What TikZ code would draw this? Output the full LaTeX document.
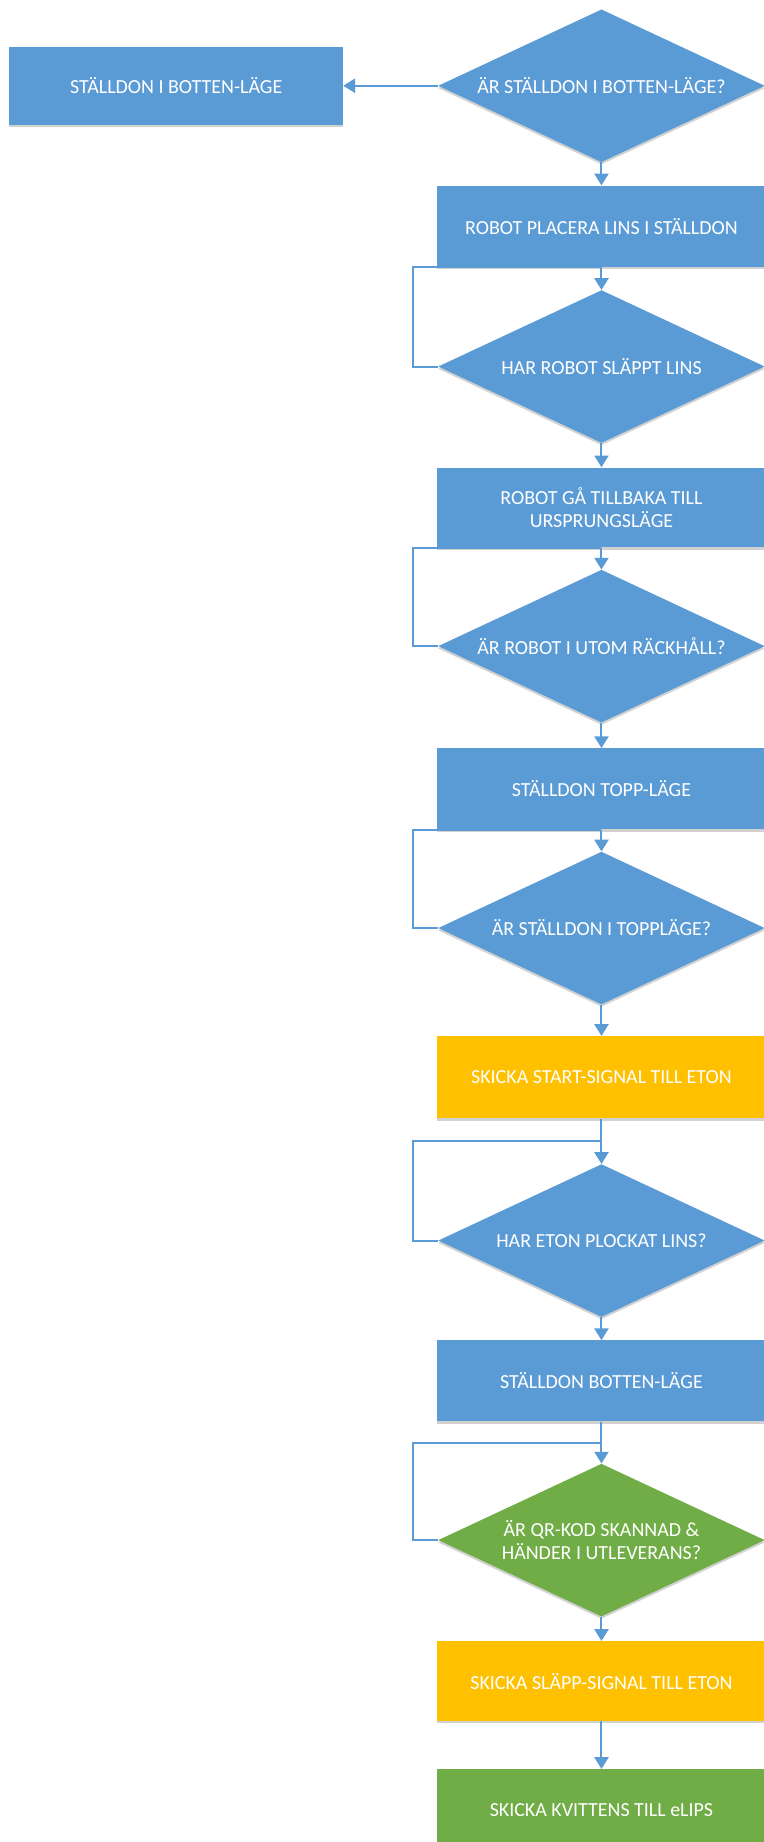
\documentclass[tikz,border=0pt]{standalone}
\usepackage{fontspec}
\setmainfont{Carlito}
\usetikzlibrary{shapes.geometric,arrows.meta,shadows}
\definecolor{fblue}{HTML}{5B9BD5}
\definecolor{fyellow}{HTML}{FFC000}
\definecolor{fgreen}{HTML}{70AD47}
\definecolor{lblue}{HTML}{5B9BD5}
\begin{document}
\begin{tikzpicture}[x=1pt,y=1pt,
  every node/.style={font=\fontsize{17}{20}\selectfont, text=white},
  shade/.style={drop shadow={shadow xshift=0pt, shadow yshift=-2pt, opacity=0.18, fill=black}},
  procbox/.style={rectangle, fill=fblue, minimum width=280pt, minimum height=69pt, inner sep=0pt, align=center, shade},
  decbox/.style={diamond, fill=fblue, minimum width=278pt, minimum height=130pt, inner sep=0pt, shape aspect=2.14, align=center, shade},
  flow/.style={draw=lblue, line width=1.7pt},
  flowarrow/.style={flow, -{Triangle[length=10pt,width=12pt]}},
]
\useasboundingbox (0,0) rectangle (650,-1568);

\node[procbox, minimum width=284pt, minimum height=66pt] (B0) at (150,-73) {STÄLLDON I BOTTEN-LÄGE};
\node[decbox] (D1) at (512,-73) {ÄR STÄLLDON I BOTTEN-LÄGE?};
\node[procbox] (B2) at (512,-192.5) {ROBOT PLACERA LINS I STÄLLDON};
\node[decbox] (D2) at (512,-312) {HAR ROBOT SLÄPPT LINS};
\node[procbox, minimum height=68pt] (B3) at (512,-432) {ROBOT GÅ TILLBAKA TILL\\URSPRUNGSLÄGE};
\node[decbox] (D3) at (512,-550) {ÄR ROBOT I UTOM RÄCKHÅLL?};
\node[procbox] (B4) at (512,-671.5) {STÄLLDON TOPP-LÄGE};
\node[decbox] (D4) at (512,-790) {ÄR STÄLLDON I TOPPLÄGE?};
\node[procbox, fill=fyellow, minimum height=70pt] (B5) at (512,-917) {SKICKA START-SIGNAL TILL ETON};
\node[decbox] (D5) at (512,-1056) {HAR ETON PLOCKAT LINS?};
\node[procbox] (B6) at (512,-1175.5) {STÄLLDON BOTTEN-LÄGE};
\node[decbox, fill=fgreen] (D6) at (512,-1311) {ÄR QR-KOD SKANNAD \&\\HÄNDER I UTLEVERANS?};
\node[procbox, fill=fyellow, minimum height=68pt] (B7) at (512,-1431) {SKICKA SLÄPP-SIGNAL TILL ETON};
\node[procbox, fill=fgreen, minimum height=70pt] (B8) at (512,-1541) {SKICKA KVITTENS TILL eLIPS};

\coordinate (j5) at (512,-971);
\coordinate (j6) at (512,-1228);

\draw[flowarrow] (D1.west) -- (B0.east);
\draw[flowarrow] (D1.south) -- (B2.north);
\draw[flowarrow] (B2.south) -- (D2.north);
\draw[flow] (D2.west) -- ++(-21,0) |- (B2.south);
\draw[flowarrow] (D2.south) -- (B3.north);
\draw[flowarrow] (B3.south) -- (D3.north);
\draw[flow] (D3.west) -- ++(-21,0) |- (B3.south);
\draw[flowarrow] (D3.south) -- (B4.north);
\draw[flowarrow] (B4.south) -- (D4.north);
\draw[flow] (D4.west) -- ++(-21,0) |- (B4.south);
\draw[flowarrow] (D4.south) -- (B5.north);
\draw[flow] (B5.south) -- (j5);
\draw[flowarrow] (j5) -- (D5.north);
\draw[flow] (D5.west) -- ++(-21,0) |- (j5);
\draw[flowarrow] (D5.south) -- (B6.north);
\draw[flow] (B6.south) -- (j6);
\draw[flowarrow] (j6) -- (D6.north);
\draw[flow] (D6.west) -- ++(-21,0) |- (j6);
\draw[flowarrow] (D6.south) -- (B7.north);
\draw[flowarrow] (B7.south) -- (B8.north);
\end{tikzpicture}
\end{document}
